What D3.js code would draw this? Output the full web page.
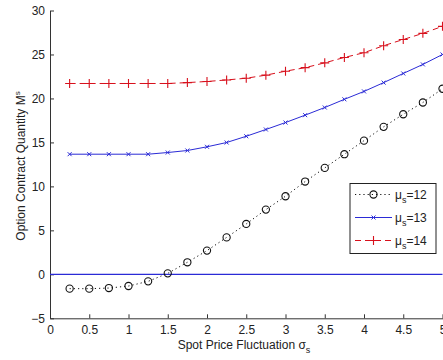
<!DOCTYPE html>
<html>
<head>
<meta charset="utf-8">
<script src="https://cdn.jsdelivr.net/npm/d3@7"></script>
<style>
  body { margin: 0; background: #fff; }
  text { font-family: "Liberation Sans", Arial, sans-serif; fill: #222; }
</style>
</head>
<body>
<div id="chart-area"></div>
<script>
// sigma_s values on the x axis
var sigmaS = [0.25, 0.5, 0.75, 1, 1.25, 1.5, 1.75, 2, 2.25, 2.5, 2.75, 3, 3.25, 3.5, 3.75, 4, 4.25, 4.5, 4.75, 5];

// option contract quantity for each mu_s
var mu12 = [-1.63, -1.63, -1.56, -1.33, -0.8, 0.11, 1.37, 2.7, 4.2, 5.73, 7.36, 8.88, 10.55, 12.1, 13.66, 15.2, 16.77, 18.2, 19.54, 21.1];
var mu13 = [13.66, 13.66, 13.66, 13.66, 13.66, 13.85, 14.08, 14.5, 14.99, 15.7, 16.47, 17.26, 18.1, 18.97, 19.9, 20.8, 21.8, 22.84, 23.87, 25.0];
var mu14 = [21.7, 21.7, 21.7, 21.7, 21.7, 21.7, 21.8, 21.93, 22.1, 22.3, 22.65, 23.1, 23.5, 24.05, 24.66, 25.2, 26.0, 26.7, 27.4, 28.2];

var xTicks = [0, 0.5, 1, 1.5, 2, 2.5, 3, 3.5, 4, 4.5, 5];
var yTicks = [-5, 0, 5, 10, 15, 20, 25, 30];
var legendLabels = ["12", "13", "14"];

var margin = { left: 50, right: 0.5, top: 10.5, bottom: 41.7 };
var W = 443, H = 360;
var width = W - margin.left - margin.right;
var height = H - margin.top - margin.bottom;

var svg = d3.select("#chart-area").append("svg")
    .attr("width", W)
    .attr("height", H);

var g = svg.append("g")
    .attr("transform", "translate(" + margin.left + "," + margin.top + ")");

var x = d3.scaleLinear().domain([0, 5]).range([0, width]);
var y = d3.scaleLinear().domain([-5, 30]).range([height, 0]);

// axes, ticks pointing inwards like matlab
var xAxis = g.append("g")
    .attr("transform", "translate(0," + height + ")")
    .call(d3.axisBottom(x).tickValues(xTicks).tickFormat(d3.format("")).tickSizeInner(-4).tickSizeOuter(0).tickPadding(7));
var yAxis = g.append("g")
    .call(d3.axisLeft(y).tickValues(yTicks).tickSizeInner(-4).tickSizeOuter(0).tickPadding(5));

[xAxis, yAxis].forEach(function(a){
    a.select(".domain").attr("stroke", "#333");
    a.selectAll(".tick line").attr("stroke", "#333");
    a.selectAll(".tick text")
        .style("font-family", "Liberation Sans, Arial, sans-serif")
        .style("font-size", "12px")
        .attr("fill", "#222");
});

// zero reference line
g.append("line")
    .attr("x1", x(0)).attr("x2", x(5))
    .attr("y1", y(0)).attr("y2", y(0))
    .attr("stroke", "#2b2bd6")
    .attr("stroke-width", 1.3);

var line = d3.line()
    .x(function(d){ return x(d[0]); })
    .y(function(d){ return y(d[1]); });

function pairs(vals){ return sigmaS.map(function(s, i){ return [s, vals[i]]; }); }

var series = [
    { vals: mu12, color: "#111", dash: "1.2,3", kind: "o", cls: "circ" },
    { vals: mu13, color: "#2b2bd6", dash: null, kind: "x", cls: "cross" },
    { vals: mu14, color: "#d8101c", dash: "6,4", kind: "+", cls: "plus" }
];

function drawMarker(sel, kind, color){
    if (kind === "o") {
        sel.append("circle").attr("r", 3.6).attr("fill", "none").attr("stroke", color).attr("stroke-width", 1.1);
    } else if (kind === "x") {
        sel.append("path").attr("d", "M-2,-2L2,2M-2,2L2,-2").attr("stroke", color).attr("stroke-width", 1);
    } else {
        sel.append("path").attr("d", "M-4.5,0H4.5M0,-4.5V4.5").attr("stroke", color).attr("stroke-width", 1.1);
    }
}

series.forEach(function(s){
    var data = pairs(s.vals);
    g.append("path")
        .datum(data)
        .attr("fill", "none")
        .attr("stroke", s.color)
        .attr("stroke-width", 1)
        .attr("stroke-dasharray", s.dash)
        .attr("d", line);

    g.selectAll(".m-" + s.cls)
        .data(data)
      .enter().append("g")
        .attr("class", "m-" + s.cls)
        .attr("transform", function(d){ return "translate(" + x(d[0]) + "," + y(d[1]) + ")"; })
        .each(function(){ drawMarker(d3.select(this), s.kind, s.color); });
});

// legend
var legend = svg.append("g").attr("transform", "translate(350,183.5)");
legend.append("rect")
    .attr("width", 86).attr("height", 70)
    .attr("fill", "#fff").attr("stroke", "#222").attr("stroke-width", 1);

series.forEach(function(s, i){
    var row = legend.append("g").attr("transform", "translate(0," + (11 + i * 23) + ")");
    row.append("line")
        .attr("x1", 5).attr("x2", 42).attr("y1", 0).attr("y2", 0)
        .attr("stroke", s.color).attr("stroke-width", 1)
        .attr("stroke-dasharray", s.dash);
    drawMarker(row.append("g").attr("transform", "translate(23.5,0)"), s.kind, s.color);
    var t = row.append("text").attr("x", 45).attr("y", 4.5).style("font-size", "12px");
    t.append("tspan").text("\u03bc");
    t.append("tspan").attr("dy", 4).style("font-size", "9px").text("s");
    t.append("tspan").attr("dy", -4).text("=" + legendLabels[i]);
});

// axis labels
var xl = svg.append("text")
    .attr("x", 244).attr("y", 349)
    .attr("text-anchor", "middle")
    .style("font-size", "12px");
xl.append("tspan").text("Spot Price Fluctuation \u03c3");
xl.append("tspan").attr("dy", 4).style("font-size", "9px").text("s");

var yl = svg.append("text")
    .attr("transform", "translate(25,166) rotate(-90)")
    .attr("text-anchor", "middle")
    .style("font-size", "12px");
yl.append("tspan").text("Option Contract Quantity M");
yl.append("tspan").attr("dy", -5).style("font-size", "8px").text("s");
</script>
</body>
</html>
